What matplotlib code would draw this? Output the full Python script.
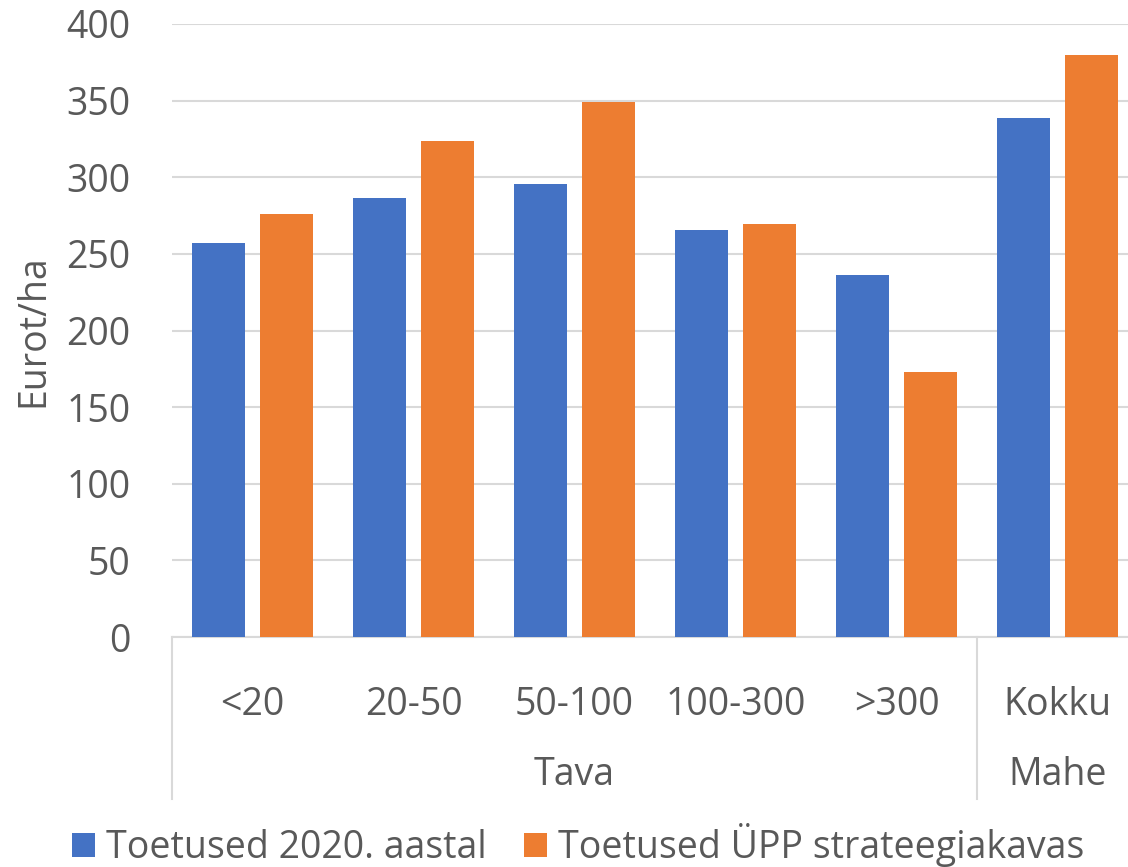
import matplotlib.pyplot as plt
import numpy as np
from matplotlib.lines import Line2D

# Data
categories = ['<20', '20-50', '50-100', '100-300', '>300', 'Kokku']
groups = ['Tava', 'Mahe']
group_sizes = [5, 1]
toetused_2020 = [257, 286.5, 295.5, 265.5, 236, 338.5]
toetused_upp = [276, 323.5, 349, 269.5, 173, 379.5]
series_names = ['Toetused 2020. aastal', 'Toetused ÜPP strateegiakavas']
colors = ['#4472C4', '#ED7D31']
yticks = [0, 50, 100, 150, 200, 250, 300, 350, 400]

plt.rcParams['font.family'] = ['Open Sans', 'DejaVu Sans']
text_color = '#595959'
grid_color = '#d9d9d9'
fs = 27

W, H = 1128, 867
fig = plt.figure(figsize=(W / 100, H / 100), dpi=100)
left, right, top, bottom = 172, 1138, 24, 637
ax = fig.add_axes([left / W, (H - bottom) / H, (right - left) / W, (bottom - top) / H])

x = np.arange(len(categories))
width = 0.33
offset = 0.211
ax.bar(x - offset, toetused_2020, width, color=colors[0], label=series_names[0], zorder=3)
ax.bar(x + offset, toetused_upp, width, color=colors[1], label=series_names[1], zorder=3)

ax.set_xlim(-0.5, len(categories) - 0.5)
ax.set_ylim(0, 400)
ax.set_yticks(yticks)
ax.yaxis.grid(True, color=grid_color, linewidth=1.5, zorder=0)
ax.set_axisbelow(True)

for s in ['top', 'right', 'left']:
    ax.spines[s].set_visible(False)
ax.spines['bottom'].set_color(grid_color)
ax.spines['bottom'].set_linewidth(1.5)

ax.tick_params(axis='y', length=0, pad=30, labelsize=fs, labelcolor=text_color)
ax.tick_params(axis='x', length=0, pad=35, labelsize=fs, labelcolor=text_color)
ax.set_xticks(x)
ax.set_xticklabels(categories)

ax.set_ylabel('Eurot/ha', fontsize=fs, color=text_color)
ax.yaxis.set_label_coords((52 - left) / (right - left), 0.5)

# group separators and group labels below the category labels
n = len(categories)
sep_depth = (799 - 637) / (bottom - top)
edges = np.concatenate([[0], np.cumsum(group_sizes)])
for e in edges:
    ax.add_line(Line2D([e / n, e / n], [0, -sep_depth], transform=ax.transAxes,
                       color=grid_color, linewidth=1.5, clip_on=False))
for g, a, b in zip(groups, edges[:-1], edges[1:]):
    ax.text((a + b) / 2 / n, -(775 - 637) / (bottom - top), g, transform=ax.transAxes,
            ha='center', va='center', fontsize=fs, color=text_color)

fig.legend(loc='center', bbox_to_anchor=(578 / W, 1 - 845 / H), ncol=2, frameon=False,
           fontsize=fs, labelcolor=text_color, handlelength=0.6, handleheight=0.6,
           handletextpad=0.3, columnspacing=1.0)

fig.savefig('out.png', dpi=100)
